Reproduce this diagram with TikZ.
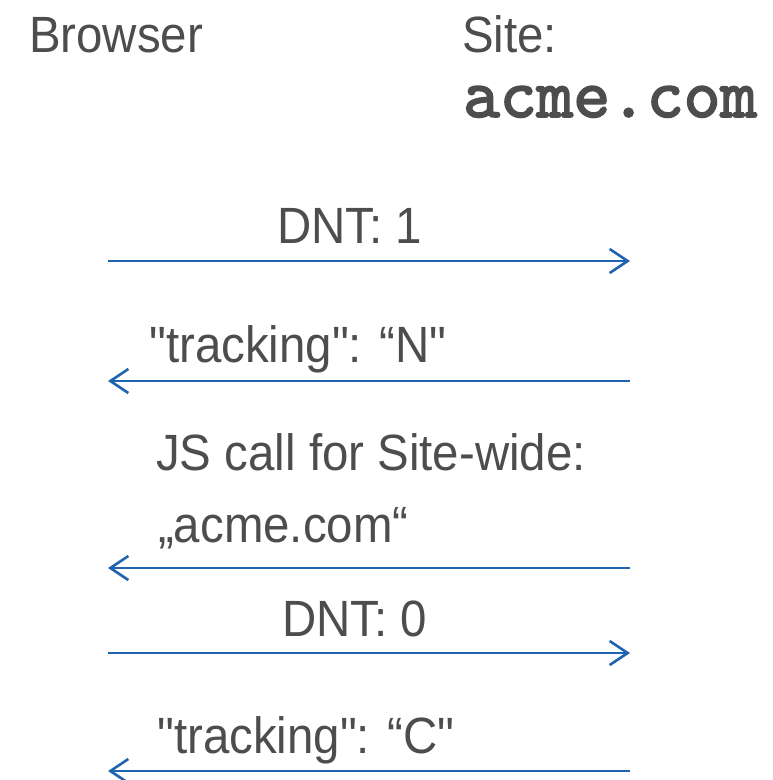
\documentclass[tikz,border=0pt]{standalone}
\usepackage{fontspec}
\setmainfont{Liberation Sans}[FakeStretch=0.93,Ligatures=TeXOff]
\newfontfamily\sitefont{lmmono10-regular.otf}[FakeBold=2.5]
\usetikzlibrary{arrows.meta}
\definecolor{msgblue}{RGB}{30,100,175}
\definecolor{txtgray}{RGB}{77,77,77}
\tikzset{
  lbl/.style={anchor=base west,inner sep=0pt,text=txtgray,font=\fontsize{51}{60}\selectfont},
  msg/.style={draw=msgblue,line width=2.6pt,-{Straight Barb[length=18pt,width=24pt,line width=2.6pt]}}
}
\begin{document}
\begin{tikzpicture}[x=1pt,y=-1pt]
        \useasboundingbox (0,0) rectangle (772,780);
        % headers
        \node[lbl] (browser) at (29,52) {Browser};
        \node[lbl] (site) at (462,52) {Site:};
        \node[anchor=base west,inner sep=0pt,text=txtgray,font=\sitefont\fontsize{70}{80}\selectfont] (domain) at (463,117) {acme.com};
        % message ends
        \coordinate (b1) at (108,261); \coordinate (s1) at (630,261);
        \coordinate (b2) at (108,381); \coordinate (s2) at (630,381);
        \coordinate (b3) at (108,568); \coordinate (s3) at (630,568);
        \coordinate (b4) at (108,653); \coordinate (s4) at (630,653);
        \coordinate (b5) at (108,771); \coordinate (s5) at (630,771);
        % messages
        \node[lbl] (dnton) at (277,243) {DNT: 1};
        \draw[msg] (b1) -- (s1);
        \node[lbl] (trackn) at (149,362) {"tracking": “N"};
        \draw[msg] (s2) -- (b2);
        \node[lbl] (jscall) at (156,470) {JS call for Site-wide:};
        \node[lbl] (jsarg) at (158,542) {„acme.com“};
        \draw[msg] (s3) -- (b3);
        \node[lbl] (dntoff) at (282,636) {DNT: 0};
        \draw[msg] (b4) -- (s4);
        \node[lbl] (trackc) at (157,753) {"tracking": “C"};
        \draw[msg] (s5) -- (b5);
    \end{tikzpicture}
\end{document}
